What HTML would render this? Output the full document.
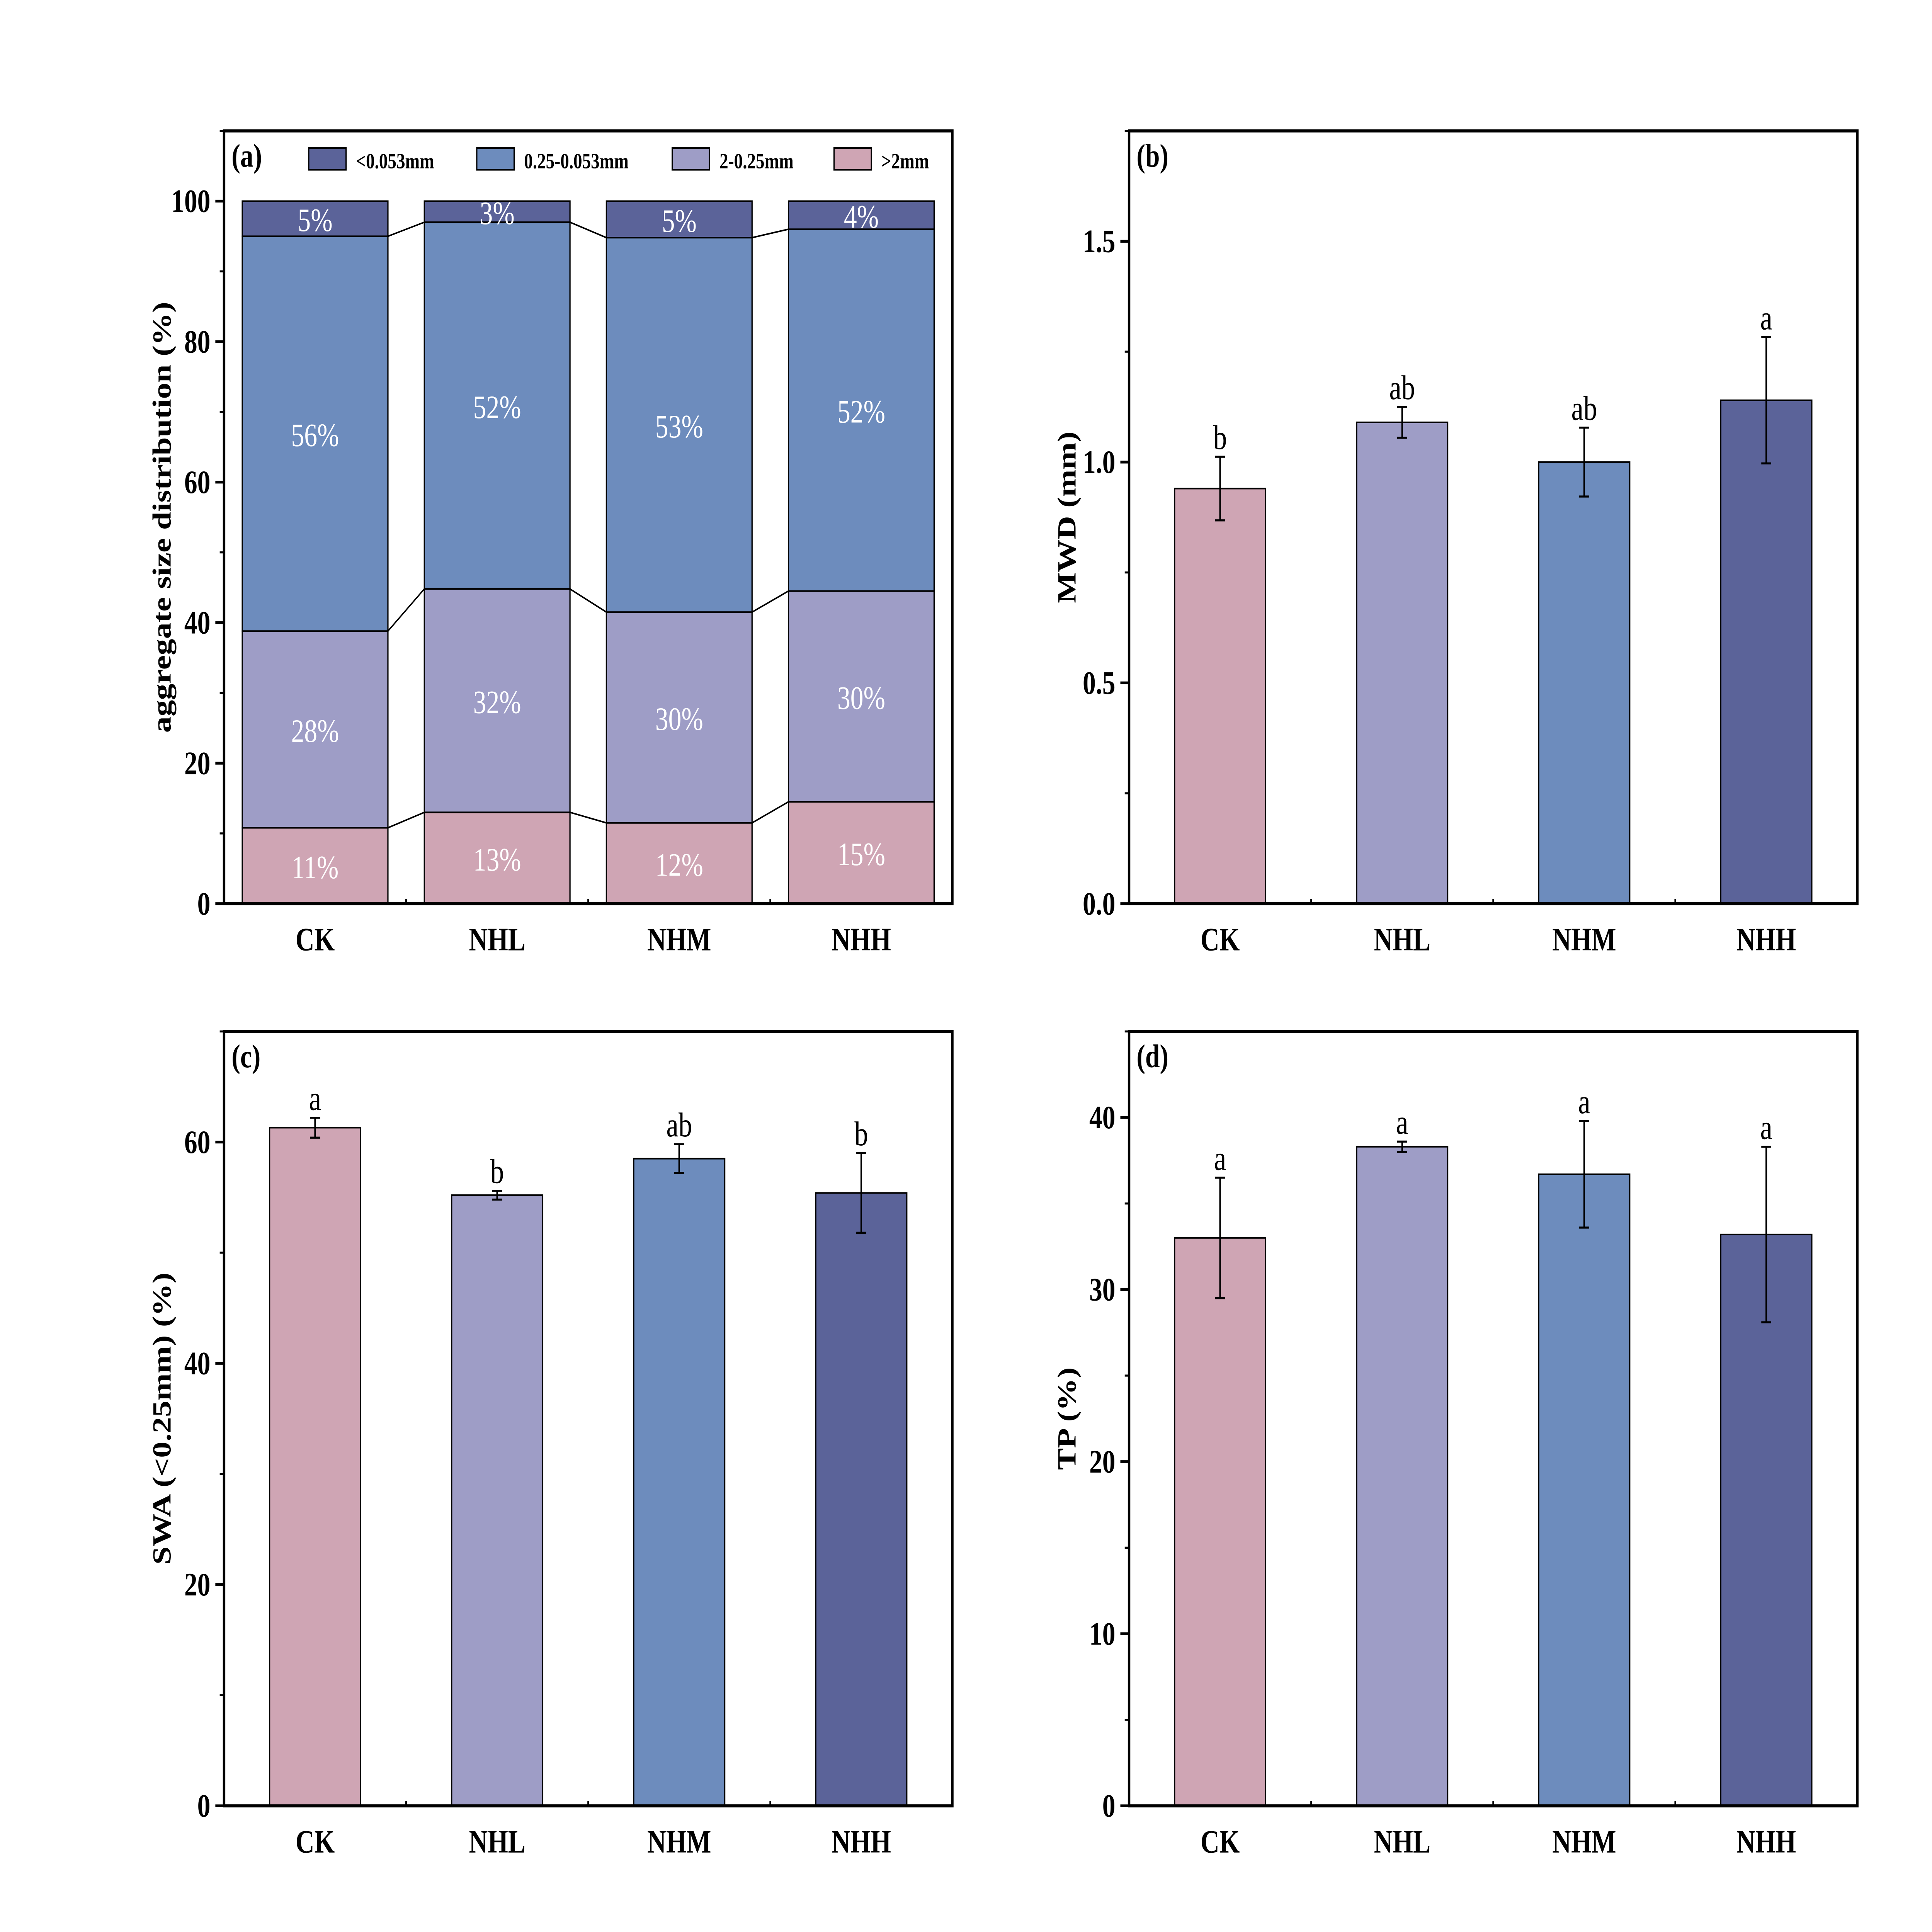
<!DOCTYPE html>
<html><head><meta charset="utf-8"><style>
html,body{margin:0;padding:0;background:#fff;overflow:hidden;width:100%;height:100%}
svg{display:block;position:fixed;left:0;top:0;width:100vw;height:100vh}
text{font-family:"Liberation Serif",serif}
</style></head><body>
<svg id="fig" viewBox="0 0 1552 1240" preserveAspectRatio="none" xmlns="http://www.w3.org/2000/svg"></svg>
<script>
const categories=["CK","NHL","NHM","NHH"];
const colors=["#cfa5b4","#9e9dc6","#6d8cbd","#5b6399"];
// panel a stacked segments (bottom to top)
const segGt2=[10.8,13,11.5,14.5];
const seg2to025=[28,31.8,30,30];
const seg025to0053=[56.2,52.2,53.3,51.5];
const segLt0053=[5,3,5.2,4];
const legendLabels=["<0.053mm","0.25-0.053mm","2-0.25mm",">2mm"];
const aTicks=[0,20,40,60,80,100];
// panel b
const mwd=[0.94,1.09,1.0,1.14];
const mwdErr=[0.072,0.035,0.078,0.143];
const mwdLetters=["b","ab","ab","a"];
const bTicks=["0.0","0.5","1.0","1.5"];
// panel c
const swa=[61.3,55.2,58.5,55.4];
const swaErr=[0.9,0.4,1.3,3.6];
const swaLetters=["a","b","ab","b"];
const cTicks=[0,20,40,60];
// panel d
const tp=[33.0,38.3,36.7,33.2];
const tpErr=[3.5,0.3,3.1,5.1];
const tpLetters=["a","a","a","a"];
const dTicks=[0,10,20,30,40];

const svg=document.getElementById('fig');
const NS="http://www.w3.org/2000/svg";
function el(tag,attrs,parent,txt){const e=document.createElementNS(NS,tag);for(const k in attrs)e.setAttribute(k,attrs[k]);if(txt!==undefined)e.textContent=txt;(parent||svg).appendChild(e);return e;}

function panel(id,L,R,T,B,ymax,ticks,minorStep,title,tag,xLabelY){
  const g=el('g',{});
  
  
  const y=v=>B-(v/ymax)*(B-T);
  const slot=(R-L)/categories.length;
  const xc=i=>L+slot*(i+0.5);
  for(let v=0;v<=ymax+1e-9;v+=minorStep){
    const t=el('line',{x1:L-3.5,x2:L,y1:y(v),y2:y(v),stroke:'#000','stroke-width':1.3},g);
    
    
  }
  ticks.forEach(tv=>{
    const v=parseFloat(tv);
    const t=el('line',{x1:L-7,x2:L,y1:y(v),y2:y(v),stroke:'#000','stroke-width':1.8},g);
    
    
    const lb=el('text',{x:L-11,y:y(v)+7,'text-anchor':'end','font-size':21,'font-weight':'bold'},g,String(tv));
    
    
  });
  categories.forEach((c,i)=>{
    const lb=el('text',{x:xc(i),y:xLabelY,'text-anchor':'middle','font-size':21,'font-weight':'bold'},g,c);
    
    
    const t=el('line',{x1:xc(i),x2:xc(i),y1:B,y2:B-6,stroke:'#000','stroke-width':1.5},g);
    
    
    if(i>0){const m=el('line',{x1:L+slot*i,x2:L+slot*i,y1:B,y2:B-3,stroke:'#000','stroke-width':1.3},g);
      
      }
  });
  const tt=el('text',{x:0,y:0,'text-anchor':'middle','font-size':21,'font-weight':'bold',transform:`translate(${L-43},${(T+B)/2}) rotate(-90)`},g,title);
  
  
  const tg=el('text',{x:L+6,y:T+23,'font-size':21,'font-weight':'bold'},g,tag);
  
  
  return {g,y,xc,slot,L,R,T,B};
}
function frame(p){
  const f=el('rect',{x:p.L,y:p.T,width:p.R-p.L,height:p.B-p.T,fill:'none',stroke:'#000','stroke-width':2},p.g);
  
  
}
function barPanel(p,vals,errs,letters){
  const w=p.slot*0.5;
  vals.forEach((v,i)=>{
    const b=el('rect',{x:p.xc(i)-w/2,y:p.y(v),width:w,height:p.B-p.y(v),fill:colors[i],stroke:'#000','stroke-width':1},p.g);
    
    
    const top=p.y(v+errs[i]),bot=p.y(v-errs[i]);
    const e=el('path',{d:`M${p.xc(i)},${top}V${bot}M${p.xc(i)-4},${top}H${p.xc(i)+4}M${p.xc(i)-4},${bot}H${p.xc(i)+4}`,stroke:'#000','stroke-width':1.3,fill:'none'},p.g);
    
    
    const lt=el('text',{x:p.xc(i),y:top-5,'text-anchor':'middle','font-size':22},p.g,letters[i]);
    
    
  });
  frame(p);
}

// Panel a
const pa=panel('a',180,765,84,580,110,aTicks,10,'aggregate size distribution (%)','(a)',610);
{
  const segs=[segGt2,seg2to025,seg025to0053,segLt0053];
  const w=pa.slot*0.8;
  const tops=segs.map(()=>[]);
  categories.forEach((c,i)=>{
    let cum=0;
    segs.forEach((s,k)=>{
      const y0=pa.y(cum),y1=pa.y(cum+s[i]);
      const r=el('rect',{x:pa.xc(i)-w/2,y:y1,width:w,height:y0-y1,fill:colors[k],stroke:'#000','stroke-width':1},pa.g);
      
      
      const lb=el('text',{x:pa.xc(i),y:(y0+y1)/2+8,'text-anchor':'middle','font-size':21,fill:'#fff'},pa.g,Math.round(s[i])+'%');
      
      
      cum+=s[i];tops[k].push(cum);
    });
  });
  for(let k=0;k<3;k++){
    for(let i=0;i<3;i++){
      const ln=el('line',{x1:pa.xc(i)+w/2,y1:pa.y(tops[k][i]),x2:pa.xc(i+1)-w/2,y2:pa.y(tops[k][i+1]),stroke:'#000','stroke-width':1},pa.g);
      
      
    }
  }
  const lx=[248,383,540,670];
  const lc=[colors[3],colors[2],colors[1],colors[0]];
  legendLabels.forEach((t,k)=>{
    const r=el('rect',{x:lx[k],y:95,width:30,height:14,fill:lc[k],stroke:'#000','stroke-width':1},pa.g);
    
    
    const tx=el('text',{x:lx[k]+38,y:108,'font-size':14,'font-weight':'bold'},pa.g,t);
    
    
  });
  frame(pa);
}
const pb=panel('b',907,1492,84,580,1.75,bTicks,0.25,'MWD (mm)','(b)',610);
barPanel(pb,mwd,mwdErr,mwdLetters);
const pc=panel('c',180,765,662,1159,70,cTicks,10,'SWA (<0.25mm) (%)','(c)',1189);
barPanel(pc,swa,swaErr,swaLetters);
const pd=panel('d',907,1492,662,1159,45,dTicks,5,'TP (%)','(d)',1189);
barPanel(pd,tp,tpErr,tpLetters);
</script>
</body></html>
